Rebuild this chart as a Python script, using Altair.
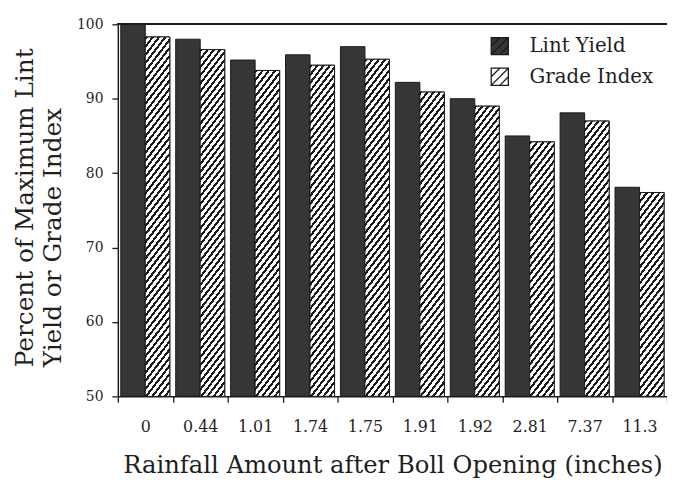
import math
import altair as alt
import pandas as pd

# ---- data ----
rainfall = ["0", "0.44", "1.01", "1.74", "1.75", "1.91", "1.92", "2.81", "7.37", "11.3"]
lint_yield = [100.0, 98.0, 95.2, 95.9, 97.0, 92.2, 90.0, 85.0, 88.1, 78.1]
grade_index = [98.3, 96.6, 93.8, 94.5, 95.3, 90.9, 89.0, 84.2, 87.0, 77.4]
series = ["Lint Yield", "Grade Index"]
y_ticks = [50, 60, 70, 80, 90, 100]

# ---- layout / style ----
W, H = 555, 376
Y_MIN, Y_MAX = 50, 100
STEP = W / len(rainfall)
OFF_OUTER = 0.12
BAR_W = STEP / (2 + 2 * OFF_OUTER)
FONT = "DejaVu Serif"
DARK = "#363636"
INK = "#1a1a1a"
TEXT = "#1f1f1f"

rows = []
for c, a, b in zip(rainfall, lint_yield, grade_index):
    rows.append({"Rainfall": c, "Series": series[0], "Value": a})
    rows.append({"Rainfall": c, "Series": series[1], "Value": b})
df = pd.DataFrame(rows)


def hatch_gradient(value, k=1.3, period=5.0, ink=0.42):
    """Diagonal hatch fill built as a hard-stop linear gradient (bbox units)."""
    w = BAR_W
    h = (value - Y_MIN) / (Y_MAX - Y_MIN) * H
    a, b = k * w, h
    s = (a + b) / (a * a + b * b)
    dist = (k * w + h) / math.sqrt(1 + k * k)
    n = max(1, int(round(dist / period)))
    stops = []
    for i in range(n):
        o0 = i / n
        o1 = (i + ink) / n
        o2 = (i + 1) / n
        stops += [
            {"offset": round(o0, 5), "color": INK},
            {"offset": round(o1, 5), "color": INK},
            {"offset": round(o1, 5), "color": "#ffffff"},
            {"offset": round(o2, 5), "color": "#ffffff"},
        ]
    return {
        "gradient": "linear",
        "x1": 0, "y1": 0,
        "x2": round(s * a, 6), "y2": round(s * b, 6),
        "stops": stops,
    }


hatch_conditions = [
    {"test": f"datum['Rainfall'] === '{c}'", "value": hatch_gradient(v)}
    for c, v in zip(rainfall, grade_index)
]

x_enc = alt.X(
    "Rainfall:N",
    sort=rainfall,
    scale=alt.Scale(paddingInner=0, paddingOuter=0),
    axis=alt.Axis(
        title="Rainfall Amount after Boll Opening (inches)",
        labelAngle=0,
        tickBand="extent",
        labelPadding=17,
        labelFontSize=16,
        titleFontSize=24.5,
        titlePadding=19,
    ),
)
xoff_enc = alt.XOffset(
    "Series:N", sort=series,
    scale=alt.Scale(paddingInner=0, paddingOuter=OFF_OUTER),
)
y_enc = alt.Y(
    "Value:Q",
    scale=alt.Scale(domain=[Y_MIN, Y_MAX], zero=False, nice=False),
    axis=alt.Axis(
        values=y_ticks,
        format="d",
        title=["Percent of Maximum Lint", "Yield or Grade Index"],
        titleAngle=270,
        titleAlign="left",
        titleBaseline="middle",
        titleFontSize=25,
        titleX=-94,
        titleY=346,
        titleLineHeight=28,
        labelPadding=9,
    ),
)
y2_enc = alt.Y2(datum=Y_MIN)

legend_symbol = "M-1,-1H1V1H-1Z M-1,0L0,-1 M-1,1L1,-1 M0,1L1,0"

bars = alt.Chart(df).mark_bar(stroke=INK, strokeWidth=1).encode(
    x=x_enc,
    xOffset=xoff_enc,
    y=y_enc,
    y2=y2_enc,
    fill=alt.Fill(
        "Series:N",
        sort=series,
        scale=alt.Scale(domain=series, range=[DARK, "#ffffff"]),
        legend=alt.Legend(
            title=None,
            orient="none",
            legendX=376,
            legendY=12,
            symbolType=legend_symbol,
            symbolSize=300,
            symbolStrokeColor=INK,
            symbolStrokeWidth=1.3,
            labelFont=FONT,
            labelFontSize=20,
            labelColor=TEXT,
            labelOffset=20,
            rowPadding=7,
            padding=0,
        ),
    ),
)

hatched = alt.Chart(df).transform_filter(
    alt.datum.Series == series[1]
).mark_bar(stroke=INK, strokeWidth=1).encode(
    x=x_enc,
    xOffset=xoff_enc,
    y=y_enc,
    y2=y2_enc,
    fill={"condition": hatch_conditions, "value": "#ffffff"},
)

top_line = alt.Chart(df).mark_rule(color=INK, strokeWidth=1.5).encode(
    y=alt.datum(Y_MAX)
)

chart = alt.layer(bars, hatched, top_line).properties(
    width=W,
    height=H,
    autosize=alt.AutoSizeParams(type="none"),
    padding={"left": 111, "top": 14, "right": 0, "bottom": 80},
).configure_view(
    stroke=None
).configure_axis(
    grid=False,
    domainColor=INK,
    domainWidth=1.5,
    tickColor=INK,
    tickSize=6,
    tickWidth=1.3,
    labelFont=FONT,
    labelFontSize=14,
    labelColor=TEXT,
    titleFont=FONT,
    titleFontWeight="normal",
    titleColor=TEXT,
)

chart.save("out.html", embed_options={"renderer": "svg", "actions": False})
